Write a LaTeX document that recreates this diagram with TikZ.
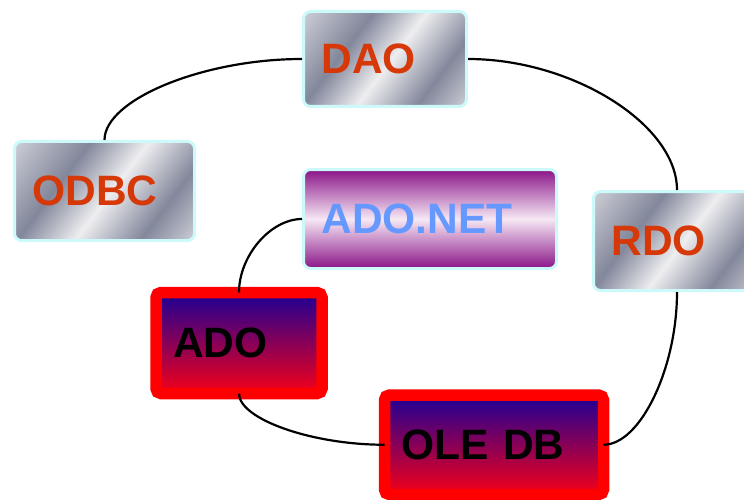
\documentclass[tikz,border=0pt]{standalone}
\usepackage{fontspec}
\setmainfont{Liberation Sans}
\usetikzlibrary{calc}

\definecolor{metalhi}{RGB}{238,238,240}
\definecolor{metallo}{RGB}{130,135,155}
\definecolor{metalmid}{RGB}{205,207,214}
\definecolor{edgecyan}{RGB}{204,250,250}
\definecolor{txtred}{RGB}{214,56,8}
\definecolor{txtblue}{RGB}{102,153,255}
\definecolor{plum}{RGB}{138,20,136}
\definecolor{plumhi}{RGB}{246,232,244}
\definecolor{indigotop}{RGB}{28,0,150}
\definecolor{redbot}{RGB}{245,0,24}

\pgfdeclarehorizontalshading{metal}{100bp}{color(0bp)=(metalmid); color(15bp)=(metalmid);
  color(36bp)=(metallo); color(52bp)=(metalhi); color(70bp)=(metallo); color(85bp)=(metalmid); color(100bp)=(metalmid)}
\pgfdeclareverticalshading{plumband}{100bp}{color(0bp)=(plum); color(25bp)=(plum);
  color(50bp)=(plumhi); color(75bp)=(plum); color(100bp)=(plum)}

\begin{document}
\begin{tikzpicture}[x=1pt, y=1pt,
  mb/.style={rectangle, draw=edgecyan, line width=3pt, rounded corners=7pt, shading=metal, shading angle=-37, minimum height=99pt, inner xsep=18pt, align=left, text=txtred, font=\fontsize{42.5}{48}\selectfont\bfseries},
  pb/.style={rectangle, draw=edgecyan, line width=3pt, rounded corners=7pt, shading=plumband, minimum height=99pt, inner xsep=18pt, align=left, text=txtblue, font=\fontsize{42.5}{48}\selectfont\bfseries},
  rb/.style={rectangle, draw=red, line width=11.5pt, rounded corners=5pt, outer sep=0pt, top color=indigotop, bottom color=redbot, minimum height=99.5pt, inner xsep=17pt, align=left, text=black, font=\fontsize{42.5}{48}\selectfont\bfseries},
  link/.style={line width=2.2pt},
  vh/.style={to path={.. controls ($(\tikztostart)!.5!(\tikztostart|-\tikztotarget)$) and ($(\tikztotarget)!.5!(\tikztostart|-\tikztotarget)$) .. (\tikztotarget)}},
  hv/.style={to path={.. controls ($(\tikztostart)!.5!(\tikztostart-|\tikztotarget)$) and ($(\tikztotarget)!.5!(\tikztostart-|\tikztotarget)$) .. (\tikztotarget)}}
]
\useasboundingbox (0,0) rectangle (744,499);
\clip (0,0) rectangle (744,499);

% silver boxes
\node[mb, text width=127pt, minimum height=95pt] (dao) at (385,440) {DAO};
\node[mb, text width=144pt] (odbc) at (104.5,308) {ODBC};
\node[mb, text width=131pt] (rdo) at (677,258) {RDO};

% purple box
\node[pb, text width=217pt] (adonet) at (430,280) {ADO.NET};

% red framed boxes
\node[rb, text width=132pt, minimum height=101pt] (ado) at (239,156) {ADO};
\node[rb, text width=185pt] (oledb) at (494,54.25) {OLE DB};

% links
\draw[link] (odbc.north) to[vh] (dao.west);
\draw[link] (dao.east) to[hv] (rdo.north);
\draw[link] (rdo.south) to[vh] (oledb.east);
\draw[link] (oledb.west) to[hv] (ado.south);
\draw[link] (ado.north) to[vh] (adonet.west);

\end{tikzpicture}
\end{document}
